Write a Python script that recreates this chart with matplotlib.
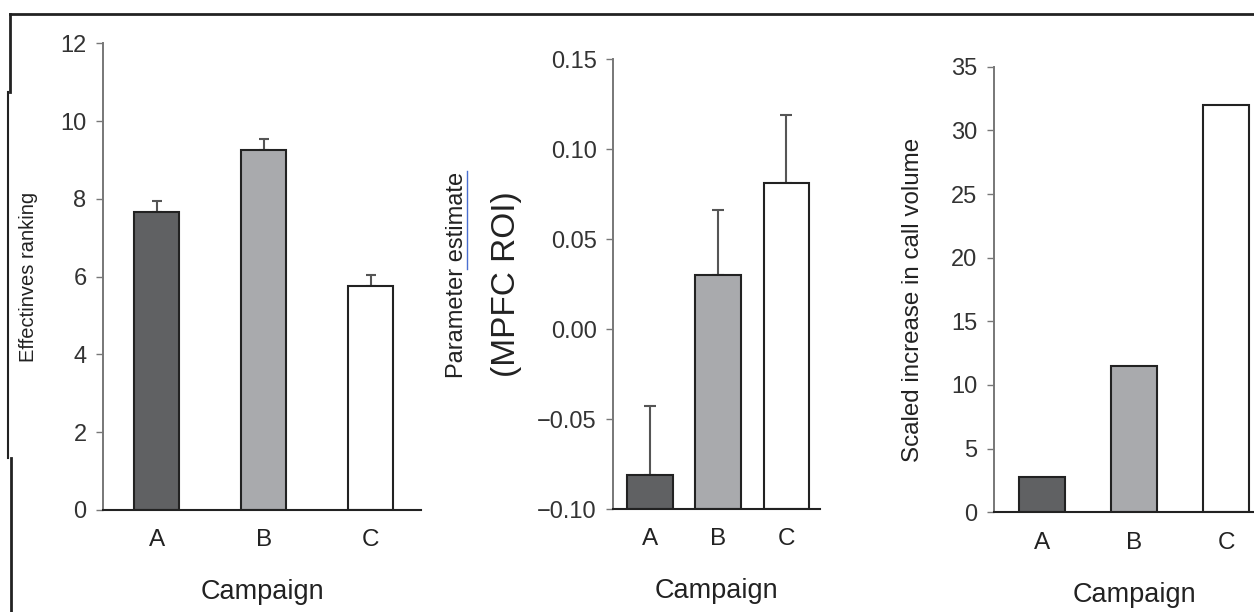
import numpy as np
import matplotlib.pyplot as plt
from matplotlib.lines import Line2D

plt.rcParams['font.family'] = ['Liberation Sans', 'DejaVu Sans']

# data
campaigns = ['A', 'B', 'C']
bar_colors = ['#606163', '#a9aaad', '#ffffff']

ranking = [7.65, 9.25, 5.75]
ranking_err = [0.3, 0.3, 0.3]

mpfc = [-0.081, 0.030, 0.081]
mpfc_err = [0.038, 0.036, 0.038]
mpfc_base = -0.10

call_volume = [2.75, 11.5, 32.0]

W, H = 1254, 612
fig = plt.figure(figsize=(W / 100, H / 100), dpi=100)


def px_axes(left, right, top, bottom):
    return fig.add_axes([left / W, 1 - bottom / H, (right - left) / W, (bottom - top) / H])


def px_line(xs, ys, **kw):
    fig.add_artist(Line2D([v / W for v in xs], [1 - v / H for v in ys], **kw))


def style(ax):
    ax.spines['top'].set_visible(False)
    ax.spines['right'].set_visible(False)
    ax.spines['left'].set_color('#777777')
    ax.spines['left'].set_linewidth(1.4)
    ax.spines['bottom'].set_color('#222222')
    ax.spines['bottom'].set_linewidth(1.5)
    ax.tick_params(axis='y', direction='out', length=4.8, width=1, color='#777777',
                   labelsize=17, labelcolor='#333333', pad=7)
    ax.tick_params(axis='x', length=0, labelsize=17.5, labelcolor='#222222', pad=14)
    ax.set_xlabel('Campaign', fontsize=19.5, color='#222222', labelpad=20)


x = np.arange(3)

# panel 1
ax1 = px_axes(103, 421, 43.3, 510)
ax1.bar(x, ranking, width=0.42, color=bar_colors, edgecolor='#222222', linewidth=1.5, zorder=2)
ax1.errorbar(x, ranking, yerr=[[0, 0, 0], ranking_err], fmt='none', ecolor='#555555',
             elinewidth=1.5, capsize=3.6, capthick=1.5, zorder=1)
ax1.set_xlim(-0.5, 2.467)
ax1.set_ylim(0, 12)
ax1.set_yticks([0, 2, 4, 6, 8, 10, 12])
ax1.set_xticks(x, campaigns)
style(ax1)
fig.text(29 / W, 1 - 277 / H, 'Effectinves ranking', rotation=90, ha='center', va='center',
         fontsize=14.5, color='#222222')

# panel 2
ax2 = px_axes(613, 820, 59, 509)
heights = np.array(mpfc) - mpfc_base
ax2.bar(x, heights, bottom=mpfc_base, width=0.67, color=bar_colors, edgecolor='#222222',
        linewidth=1.5, zorder=2)
ax2.errorbar(x, mpfc, yerr=[[0, 0, 0], mpfc_err], fmt='none', ecolor='#555555',
             elinewidth=1.5, capsize=4.3, capthick=1.5, zorder=1)
ax2.set_xlim(-0.537, 2.49)
ax2.set_ylim(-0.10, 0.15)
ax2.set_yticks([-0.10, -0.05, 0.0, 0.05, 0.10, 0.15],
               ['\u22120.10', '\u22120.05', '0.00', '0.05', '0.10', '0.15'])
ax2.set_xticks(x, campaigns)
style(ax2)
fig.text(457 / W, 1 - 274.5 / H, 'Parameter estimate', rotation=90, ha='center', va='center',
         fontsize=17, color='#222222')
fig.text(507 / W, 1 - 284 / H, '(MPFC ROI)', rotation=90, ha='center', va='center',
         fontsize=24, color='#222222')
px_line([467, 467], [269, 171], color='#4a6fd0', lw=1)

# panel 3
ax3 = px_axes(994, 1254, 66.7, 512.3)
ax3.bar(x, call_volume, width=0.5, color=bar_colors, edgecolor='#222222', linewidth=1.5, zorder=2)
ax3.set_xlim(-0.52, 2.30)
ax3.set_ylim(0, 35)
ax3.set_yticks([0, 5, 10, 15, 20, 25, 30, 35])
ax3.set_xticks(x, campaigns)
style(ax3)
ax3.xaxis.label.set_x(0.542)
fig.text(913 / W, 1 - 299.5 / H, 'Scaled increase in call volume', rotation=90, ha='center',
         va='center', fontsize=17.4, color='#222222')

# border lines at top and left
px_line([10, 1254], [14, 14], color='#222222', lw=2)
px_line([10, 10], [14, 92], color='#222222', lw=2)
px_line([8, 8], [92, 458], color='#222222', lw=1.5)
px_line([11, 11], [458, 612], color='#222222', lw=2)

fig.savefig('out.png', dpi=100)
